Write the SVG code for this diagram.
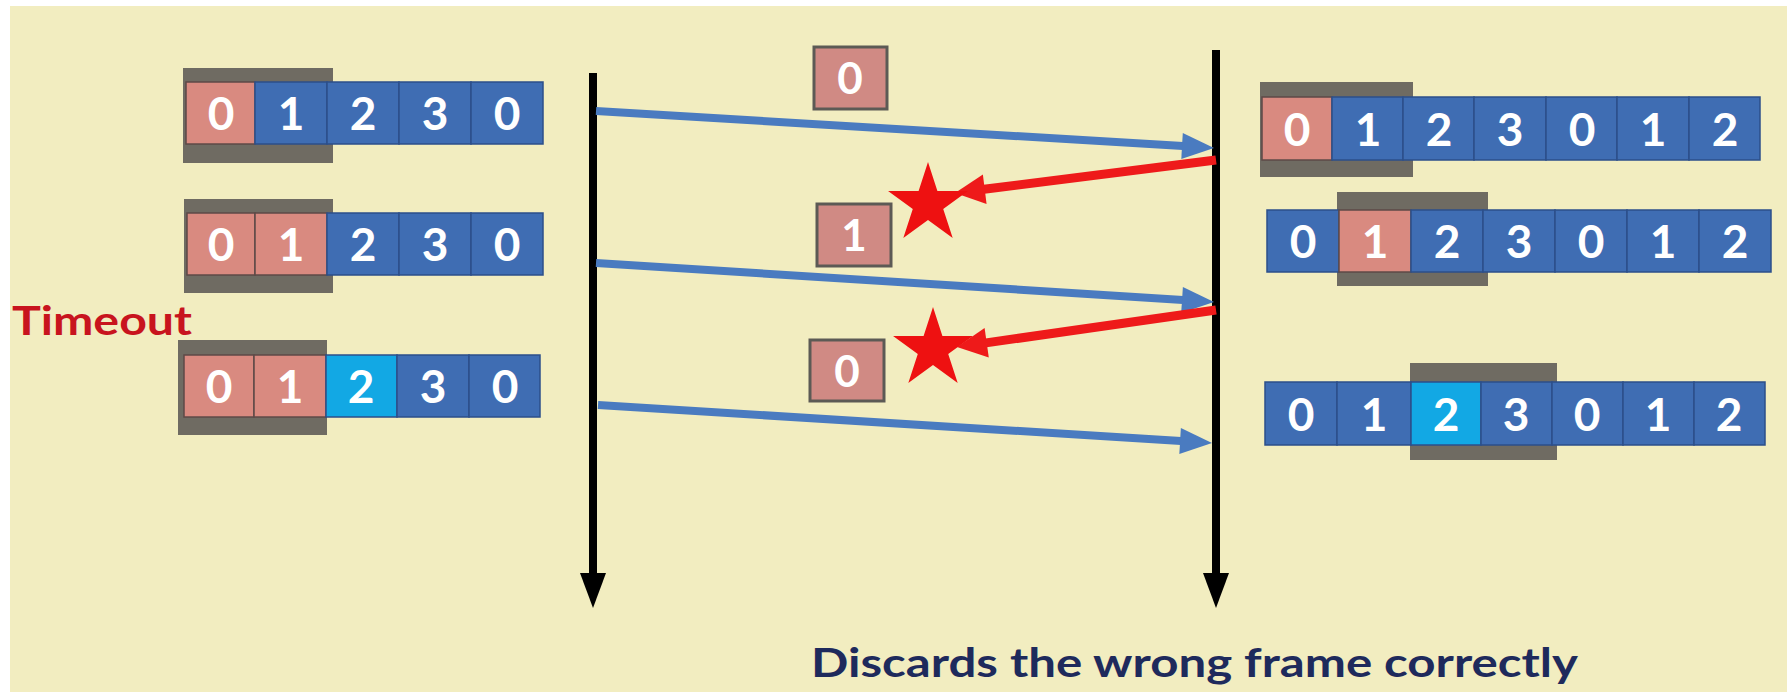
<svg xmlns="http://www.w3.org/2000/svg" width="1789" height="692" viewBox="0 0 1789 692">
<style>
.bg{fill:#F2EDC0}
.win{fill:#6F6B62}
.cb{fill:#3F6DB3;stroke:#2C4F8A;stroke-width:1.5}
.cp{fill:#D98A80;stroke:#5E4A47;stroke-width:1.5}
.cc{fill:#12A8E4;stroke:#2C4F8A;stroke-width:1.5}
.d{font-family:Lato,"Liberation Sans",sans-serif;font-weight:bold;font-size:46px;fill:#FFFFFF;text-anchor:middle}
.pk{fill:#D08A84;stroke:#5C5A55;stroke-width:3}
.pd{font-family:Lato,"Liberation Sans",sans-serif;font-weight:bold;font-size:44px;fill:#FFFFFF;text-anchor:middle}
.tl{stroke:#000000;stroke-width:8;fill:none}
.th{fill:#000000}
.ba{stroke:#4A7BC0;stroke-width:8;fill:none}
.bh{fill:#4A7BC0}
.ra{stroke:#EE1A1A;stroke-width:9;fill:none}
.rh{fill:#EE1A1A}
.star{fill:#EE1111}
</style>
<defs>
<polygon id="starShape" class="star" points="0,-42 9.4,-12.94 39.94,-12.98 15.22,4.94 24.69,33.98 0,16 -24.69,33.98 -15.22,4.94 -39.94,-12.98 -9.4,-12.94"/>
</defs>
<rect x="0" y="0" width="1789" height="692" fill="#FFFFFF"/>
<rect class="bg" x="10" y="6" width="1777" height="686"/>

<g id="sender-row1">
<rect class="win" x="183" y="68" width="150" height="95"/>
<rect class="cp" x="186" y="82" width="69" height="62"/>
<rect class="cb" x="255" y="82" width="72" height="62"/>
<rect class="cb" x="327" y="82" width="72" height="62"/>
<rect class="cb" x="399" y="82" width="72" height="62"/>
<rect class="cb" x="471" y="82" width="72" height="62"/>
<text class="d" x="221" y="130">0</text><text class="d" x="291" y="130">1</text><text class="d" x="363" y="130">2</text><text class="d" x="435" y="130">3</text><text class="d" x="507" y="130">0</text>
</g>
<g id="sender-row2">
<rect class="win" x="184" y="199" width="149" height="94"/>
<rect class="cp" x="187" y="213" width="68" height="62"/>
<rect class="cp" x="255" y="213" width="72" height="62"/>
<rect class="cb" x="327" y="213" width="72" height="62"/>
<rect class="cb" x="399" y="213" width="72" height="62"/>
<rect class="cb" x="471" y="213" width="72" height="62"/>
<text class="d" x="221" y="261">0</text><text class="d" x="291" y="261">1</text><text class="d" x="363" y="261">2</text><text class="d" x="435" y="261">3</text><text class="d" x="507" y="261">0</text>
</g>
<g id="timeout-label">
<text x="12" y="335" font-family="Lato,'Liberation Sans',sans-serif" font-weight="bold" font-size="41" fill="#C8141E" textLength="180" lengthAdjust="spacingAndGlyphs">Timeout</text>
</g>
<g id="sender-row3">
<rect class="win" x="178" y="340" width="149" height="95"/>
<rect class="cp" x="184" y="355" width="70" height="62"/>
<rect class="cp" x="254" y="355" width="72" height="62"/>
<rect class="cc" x="326" y="355" width="71" height="62"/>
<rect class="cb" x="397" y="355" width="72" height="62"/>
<rect class="cb" x="469" y="355" width="71" height="62"/>
<text class="d" x="219" y="403">0</text><text class="d" x="290" y="403">1</text><text class="d" x="361" y="403">2</text><text class="d" x="433" y="403">3</text><text class="d" x="505" y="403">0</text>
</g>

<g id="receiver-row1">
<rect class="win" x="1260" y="82" width="153" height="95"/>
<rect class="cp" x="1262" y="97" width="70" height="63"/>
<rect class="cb" x="1332" y="97" width="71" height="63"/>
<rect class="cb" x="1403" y="97" width="71" height="63"/>
<rect class="cb" x="1474" y="97" width="72" height="63"/>
<rect class="cb" x="1546" y="97" width="71" height="63"/>
<rect class="cb" x="1617" y="97" width="72" height="63"/>
<rect class="cb" x="1689" y="97" width="71" height="63"/>
<text class="d" x="1297" y="146">0</text><text class="d" x="1368" y="146">1</text><text class="d" x="1439" y="146">2</text><text class="d" x="1510" y="146">3</text><text class="d" x="1582" y="146">0</text><text class="d" x="1653" y="146">1</text><text class="d" x="1725" y="146">2</text>
</g>
<g id="receiver-row2">
<rect class="win" x="1337" y="192" width="151" height="94"/>
<rect class="cb" x="1267" y="210" width="72" height="62"/>
<rect class="cp" x="1339" y="210" width="72" height="62"/>
<rect class="cb" x="1411" y="210" width="72" height="62"/>
<rect class="cb" x="1483" y="210" width="72" height="62"/>
<rect class="cb" x="1555" y="210" width="72" height="62"/>
<rect class="cb" x="1627" y="210" width="72" height="62"/>
<rect class="cb" x="1699" y="210" width="72" height="62"/>
<text class="d" x="1303" y="258">0</text><text class="d" x="1375" y="258">1</text><text class="d" x="1447" y="258">2</text><text class="d" x="1519" y="258">3</text><text class="d" x="1591" y="258">0</text><text class="d" x="1663" y="258">1</text><text class="d" x="1735" y="258">2</text>
</g>
<g id="receiver-row3">
<rect class="win" x="1410" y="363" width="147" height="97"/>
<rect class="cb" x="1265" y="382" width="72" height="63"/>
<rect class="cb" x="1337" y="382" width="74" height="63"/>
<rect class="cc" x="1411" y="382" width="70" height="63"/>
<rect class="cb" x="1481" y="382" width="71" height="63"/>
<rect class="cb" x="1552" y="382" width="71" height="63"/>
<rect class="cb" x="1623" y="382" width="71" height="63"/>
<rect class="cb" x="1694" y="382" width="71" height="63"/>
<text class="d" x="1301" y="431">0</text><text class="d" x="1374" y="431">1</text><text class="d" x="1446" y="431">2</text><text class="d" x="1516" y="431">3</text><text class="d" x="1587" y="431">0</text><text class="d" x="1658" y="431">1</text><text class="d" x="1729" y="431">2</text>
</g>

<g id="packet-0a">
<rect class="pk" x="814" y="47" width="73" height="62"/>
<text class="pd" x="850" y="94">0</text>
</g>
<g id="packet-1">
<rect class="pk" x="817" y="204" width="74" height="62"/>
<text class="pd" x="854" y="251">1</text>
</g>
<g id="packet-0b">
<rect class="pk" x="810" y="340" width="74" height="61"/>
<text class="pd" x="847" y="387">0</text>
</g>

<g id="connectors">
<line class="tl" x1="593" y1="73" x2="593" y2="576"/>
<polygon class="th" points="580,573 606,573 593,608"/>
<line class="tl" x1="1216" y1="50" x2="1216" y2="576"/>
<polygon class="th" points="1203,573 1229,573 1216,608"/>
<line class="ba" x1="596" y1="111" x2="1183" y2="146.1"/>
<polygon class="bh" points="1214,148 1181.3,159.1 1182.8,133.1"/>
<line class="ba" x1="596" y1="263" x2="1183" y2="300"/>
<polygon class="bh" points="1214,302 1181.2,313 1182.9,287"/>
<line class="ba" x1="598" y1="405" x2="1181" y2="441"/>
<polygon class="bh" points="1212,443 1179.3,454 1180.9,428"/>
<line class="ra" x1="1216" y1="160" x2="984" y2="189.3"/>
<polygon class="rh" points="955,193 982.9,174.4 986.6,204.1"/>
<line class="ra" x1="1216" y1="310" x2="986" y2="342.9"/>
<polygon class="rh" points="957,347 984.6,327.9 988.8,357.6"/>
</g>

<g id="lost-ack-1"><use href="#starShape" x="928" y="204"/></g>
<g id="lost-ack-2"><use href="#starShape" x="933" y="349"/></g>

<g id="caption">
<text x="811" y="677" font-family="Lato,'Liberation Sans',sans-serif" font-weight="bold" font-size="40" fill="#1E2A5C" textLength="767" lengthAdjust="spacingAndGlyphs">Discards the wrong frame correctly</text>
</g>
</svg>
